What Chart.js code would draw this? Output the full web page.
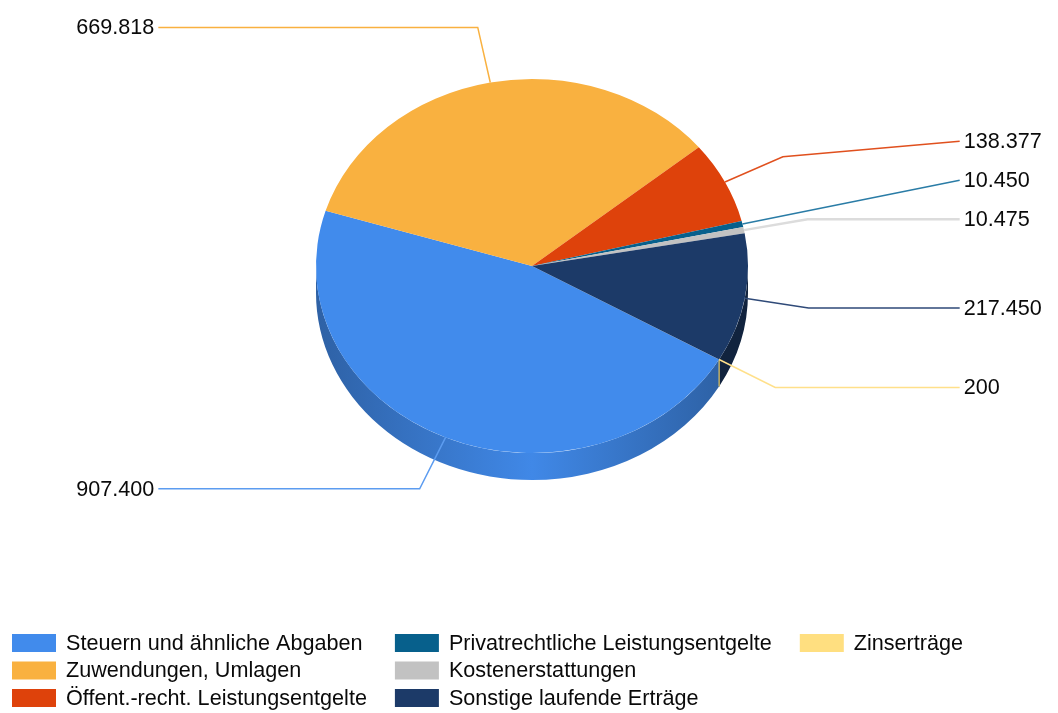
<!DOCTYPE html>
<html>
<head>
<meta charset="utf-8">
<script src="https://cdn.jsdelivr.net/npm/chart.js@4.4.1/dist/chart.umd.min.js"></script>
<style>
  html, body { margin: 0; padding: 0; background: #fff; }
  #wrap { width: 1058px; height: 713px; }
</style>
</head>
<body>
<div id="wrap"><canvas id="chart-1" width="1058" height="713"></canvas></div>
<script>
// data
const categories = [
  "Steuern und ähnliche Abgaben",
  "Zuwendungen, Umlagen",
  "Öffent.-recht. Leistungsentgelte",
  "Privatrechtliche Leistungsentgelte",
  "Kostenerstattungen",
  "Sonstige laufende Erträge",
  "Zinserträge"
];
const amounts = [907400, 669818, 138377, 10450, 10475, 217450, 200];
const sliceColors = ["#418bec", "#f9b140", "#de420b", "#07608c", "#c2c2c2", "#1c3a68", "#ffdf80"];
const lineColors = ["#5c9cf0", "#f9b140", "#e0501e", "#2a7ca6", "#dcdcdc", "#2f4a78", "#ffe08a"];

const TILT = 0.866;   // vertical squash of the pie top
const DEPTH = 27;     // height of the pie side
const FONT = '21.6px "Liberation Sans", Arial, sans-serif';

function fmt(v) {
  return String(v).replace(/\B(?=(\d{3})+(?!\d))/g, ".");
}

function shade(hex, f) {
  const n = parseInt(hex.slice(1), 16);
  const r = Math.round(((n >> 16) & 255) * f);
  const g = Math.round(((n >> 8) & 255) * f);
  const b = Math.round((n & 255) * f);
  return "rgb(" + r + "," + g + "," + b + ")";
}

// draws the side of the pie and squashes the top into an ellipse
const pie3d = {
  id: "pie3d",
  beforeDatasetsDraw(chart) {
    const ctx = chart.ctx;
    const arcs = chart.getDatasetMeta(0).data;
    if (!arcs.length) return;
    const cx = arcs[0].x, cy = arcs[0].y;
    const rx = arcs[0].outerRadius, ry = rx * TILT;

    arcs.forEach((arc, i) => {
      const parts = [[0, Math.PI], [2 * Math.PI, 3 * Math.PI]];
      parts.forEach(p => {
        const a = Math.max(arc.startAngle, p[0]);
        const b = Math.min(arc.endAngle, p[1]);
        if (b <= a) return;
        const grad = ctx.createLinearGradient(cx - rx, 0, cx + rx, 0);
        grad.addColorStop(0, shade(sliceColors[i], 0.70));
        grad.addColorStop(0.5, shade(sliceColors[i], 0.98));
        grad.addColorStop(1, shade(sliceColors[i], 0.66));
        ctx.save();
        ctx.beginPath();
        ctx.ellipse(cx, cy, rx, ry, 0, a, b, false);
        ctx.ellipse(cx, cy + DEPTH, rx, ry, 0, b, a, true);
        ctx.closePath();
        ctx.fillStyle = i === 5 ? shade(sliceColors[i], 0.6) : grad;
        ctx.fill();
        // edge of the slice on the side
        if (a > p[0]) {
          const ex = cx + rx * Math.cos(a), ey = cy + ry * Math.sin(a);
          ctx.beginPath();
          ctx.moveTo(ex, ey);
          ctx.lineTo(ex, ey + DEPTH);
          ctx.strokeStyle = i === 6 ? "#e8c860" : shade(sliceColors[i], 0.75);
          ctx.lineWidth = 1.2;
          ctx.stroke();
        }
        ctx.restore();
      });
    });

    ctx.save();
    ctx.translate(0, cy);
    ctx.scale(1, TILT);
    ctx.translate(0, -cy);
  },
  afterDatasetsDraw(chart) {
    chart.ctx.restore();
  }
};

// value labels with leader lines
const outsideLabels = {
  id: "outsideLabels",
  afterDatasetsDraw(chart) {
    const ctx = chart.ctx;
    const arcs = chart.getDatasetMeta(0).data;
    const items = arcs.map((arc, i) => {
      const m = (arc.startAngle + arc.endAngle) / 2;
      const rx = arc.outerRadius, ry = rx * TILT;
      const c = Math.cos(m), s = Math.sin(m);
      return {
        i: i,
        right: c >= 0,
        ax: arc.x + rx * c, ay: arc.y + ry * s,
        ex: arc.x + 1.3 * rx * c, ey: arc.y + 1.3 * ry * s,
        ly: arc.y + 1.3 * ry * s,
        endX: c >= 0 ? arc.x + 1.98 * rx : arc.x - 1.73 * rx
      };
    });
    [true, false].forEach(side => {
      const list = items.filter(it => it.right === side).sort((a, b) => a.ly - b.ly);
      for (let j = list.length - 2; j >= 0; j--) {
        list[j].ly = Math.min(list[j].ly, list[j + 1].ly - 39);
      }
    });

    ctx.save();
    ctx.font = FONT;
    ctx.textBaseline = "middle";
    items.forEach(it => {
      ctx.beginPath();
      ctx.moveTo(it.ax, it.ay);
      ctx.lineTo(it.ex, it.ey);
      ctx.lineTo(it.endX, it.ly);
      ctx.strokeStyle = lineColors[it.i];
      ctx.lineWidth = it.i === 4 ? 2.5 : 1.5;
      ctx.stroke();
      ctx.fillStyle = "#0a0a0a";
      if (it.right) {
        ctx.textAlign = "left";
        ctx.fillText(fmt(amounts[it.i]), it.endX + 4, it.ly + 1);
      } else {
        ctx.textAlign = "right";
        ctx.fillText(fmt(amounts[it.i]), it.endX - 4, it.ly + 1);
      }
    });
    ctx.restore();
  }
};

// legend in three columns, filled top to bottom
const gridLegend = {
  id: "gridLegend",
  afterDraw(chart) {
    const ctx = chart.ctx;
    const rows = 3, boxW = 44, boxH = 18, textGap = 10, colGap = 28;
    const top = chart.height - 70, rowH = 27.5;
    ctx.save();
    ctx.font = FONT;
    ctx.textBaseline = "middle";
    ctx.textAlign = "left";
    let x = 12;
    for (let c = 0; c * rows < categories.length; c++) {
      let maxW = 0;
      for (let r = 0; r < rows; r++) {
        const i = c * rows + r;
        if (i >= categories.length) break;
        const y = top + r * rowH;
        ctx.fillStyle = sliceColors[i];
        ctx.fillRect(x, y - boxH / 2, boxW, boxH);
        ctx.fillStyle = "#0a0a0a";
        ctx.fillText(categories[i], x + boxW + textGap, y + 1);
        maxW = Math.max(maxW, ctx.measureText(categories[i]).width);
      }
      x += boxW + textGap + maxW + colGap;
    }
    ctx.restore();
  }
};

const ctx1 = document.getElementById("chart-1").getContext("2d");
const myChart = new Chart(ctx1, {
  type: "pie",
  data: {
    labels: categories,
    datasets: [
      {
        data: amounts,
        backgroundColor: sliceColors,
        borderWidth: 0
      }
    ]
  },
  options: {
    responsive: false,
    animation: false,
    events: [],
    rotation: 120,
    layout: {
      padding: { left: 316, right: 310, top: 50, bottom: 231 }
    },
    plugins: {
      legend: { display: false },
      tooltip: { enabled: false }
    }
  },
  plugins: [pie3d, outsideLabels, gridLegend]
});
</script>
</body>
</html>
